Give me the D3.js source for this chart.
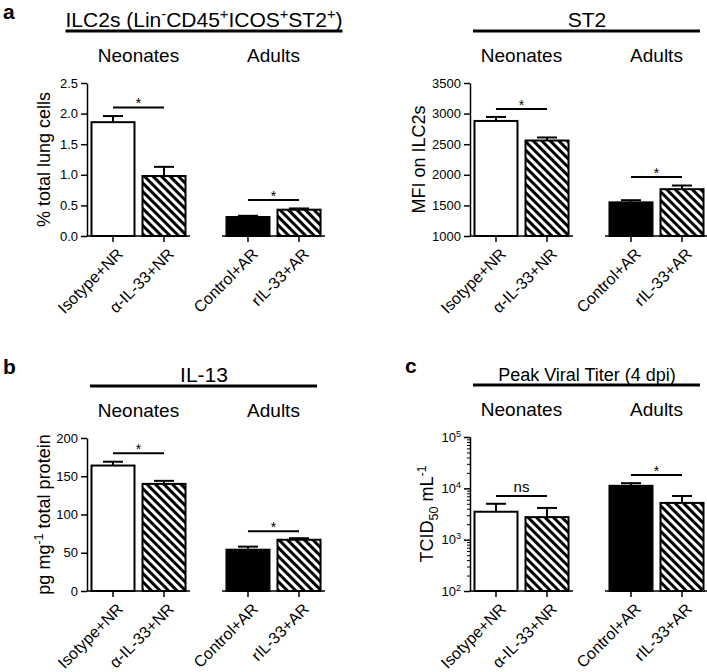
<!DOCTYPE html>
<html>
<head>
<meta charset="utf-8">
<script src="https://cdn.jsdelivr.net/npm/d3@7"></script>
<style>
  body { margin: 0; background: #fff; }
  text { font-family: "Liberation Sans", Arial, Helvetica, sans-serif; fill: #000; }
</style>
</head>
<body>
<svg id="fig" width="707" height="672"></svg>
<script>
// ---- data ----
const groups = ["Isotype+NR", "α-IL-33+NR", "Control+AR", "rIL-33+AR"];
const ageOf = ["Neonates", "Neonates", "Adults", "Adults"];
const ages = ["Neonates", "Adults"];
const fills = ["white", "hatch", "black", "hatch"];

const ilc2Mean = [1.86, 0.98, 0.31, 0.43];
const ilc2Sem = [0.10, 0.15, 0.02, 0.02];
const ilc2Sig = [2.1, 0.59];
const ilc2Ticks = [0, 0.5, 1.0, 1.5, 2.0, 2.5];

const st2Mean = [2880, 2560, 1550, 1765];
const st2Sem = [65, 50, 35, 60];
const st2Sig = [3075, 1965];
const st2Ticks = [1000, 1500, 2000, 2500, 3000, 3500];

const il13Mean = [164, 140, 54, 67];
const il13Sem = [5, 4, 4, 2];
const il13Sig = [180, 78];
const il13Ticks = [0, 50, 100, 150, 200];

const titerMean = [3500, 2750, 11200, 5200];
const titerSem = [1500, 1400, 1400, 1900];
const titerSig = [7100, 18200];
const titerTicks = [1e2, 1e3, 1e4, 1e5];

const svg = d3.select("#fig");

// hatch pattern ( \\\ stripes )
svg.append("defs")
  .append("pattern")
  .attr("id", "hatch")
  .attr("patternUnits", "userSpaceOnUse")
  .attr("width", 6)
  .attr("height", 6)
  .attr("patternTransform", "rotate(-45)")
  .call((p) => {
    p.append("rect").attr("width", 6).attr("height", 6).attr("fill", "white");
    p.append("rect").attr("width", 3).attr("height", 6).attr("fill", "black");
  });

// text with sup / sub pieces
function rich(sel, parts, size) {
  let shift = 0;
  parts.forEach(([str, kind]) => {
    const target = kind === "sup" ? -0.38 * size : kind === "sub" ? 0.25 * size : 0;
    sel.append("tspan")
      .attr("dy", target - shift)
      .attr("font-size", kind ? size * 0.7 : size)
      .text(str);
    shift = target;
  });
}

function drawPanel(o) {
  const g = svg.append("g");
  const x0 = o.x0;

  const outer = d3.scaleBand().domain(ages).range([x0, x0 + 238]).paddingInner(0.237);
  const inner = d3.scaleBand().domain([0, 1]).range([0, outer.bandwidth()])
    .paddingInner(0.157).paddingOuter(0.088);
  const xPos = (i) => outer(ageOf[i]) + inner(i % 2);
  const bw = inner.bandwidth();

  const y = o.log
    ? d3.scaleLog().domain(o.domain).range([o.yBottom, o.yTop])
    : d3.scaleLinear().domain(o.domain).range([o.yBottom, o.yTop]);

  // panel letter
  g.append("text").attr("x", o.letter[1]).attr("y", o.letter[2])
    .attr("font-size", 21).attr("font-weight", "bold").text(o.letter[0]);

  // title + underline
  const cx = x0 + 117;
  const title = g.append("text").attr("x", cx).attr("y", o.yTop - 56)
    .attr("text-anchor", "middle");
  rich(title, o.title, o.titleSize);
  const bb = title.node().getBBox();
  g.append("line")
    .attr("x1", Math.min(x0 + 3, bb.x)).attr("x2", Math.max(x0 + 230, bb.x + bb.width))
    .attr("y1", o.yTop - 52).attr("y2", o.yTop - 52)
    .attr("stroke", "black").attr("stroke-width", 3);

  // age headers
  g.selectAll(".age").data(ages).join("text")
    .attr("x", (d) => outer(d) + outer.bandwidth() / 2)
    .attr("y", o.yTop - 21)
    .attr("text-anchor", "middle").attr("font-size", 19).text((d) => d);

  // bars
  const base = y.domain()[0];
  g.selectAll(".bar").data(o.mean).join("rect")
    .attr("x", (d, i) => xPos(i))
    .attr("width", bw)
    .attr("y", (d) => y(d))
    .attr("height", (d) => y(base) - y(d))
    .attr("fill", (d, i) => (fills[i] === "hatch" ? "url(#hatch)" : fills[i]))
    .attr("stroke", "black").attr("stroke-width", 2);

  // error bars (upper only)
  const eb = g.selectAll(".err").data(o.mean).join("g");
  eb.append("line")
    .attr("x1", (d, i) => xPos(i) + bw / 2).attr("x2", (d, i) => xPos(i) + bw / 2)
    .attr("y1", (d) => y(d)).attr("y2", (d, i) => y(d + o.sem[i]))
    .attr("stroke", "black").attr("stroke-width", 2);
  eb.append("line")
    .attr("x1", (d, i) => xPos(i) + bw / 2 - 10).attr("x2", (d, i) => xPos(i) + bw / 2 + 10)
    .attr("y1", (d, i) => y(d + o.sem[i])).attr("y2", (d, i) => y(d + o.sem[i]))
    .attr("stroke", "black").attr("stroke-width", 2);

  // significance brackets
  ages.forEach((a, k) => {
    const xa = xPos(2 * k) + bw / 2, xb = xPos(2 * k + 1) + bw / 2;
    const yy = y(o.sig[k]);
    g.append("line").attr("x1", xa).attr("x2", xb).attr("y1", yy).attr("y2", yy)
      .attr("stroke", "black").attr("stroke-width", 2);
    const lab = o.sigLabels[k];
    g.append("text").attr("x", (xa + xb) / 2).attr("y", lab === "*" ? yy + 1 : yy - 4)
      .attr("text-anchor", "middle").attr("font-size", lab === "*" ? 14 : 15).text(lab);
  });

  // y axis
  const yAxis = d3.axisLeft(y).tickValues(o.ticks).tickSize(6).tickPadding(3).tickSizeOuter(0)
    .tickFormat(o.log ? () => "" : d3.format(o.fmt));
  const ya = g.append("g").attr("transform", `translate(${x0},0)`).call(yAxis);
  ya.selectAll("text").attr("font-size", 13)
    .style("font-family", '"Liberation Sans", Arial, sans-serif');
  ya.selectAll("path, line").attr("stroke", "black").attr("stroke-width", 1.5);
  if (o.log) {
    ya.selectAll(".tick text").each(function (d) {
      const t = d3.select(this);
      t.append("tspan").text("10");
      t.append("tspan").attr("dy", -5).attr("font-size", 9).text(Math.round(Math.log10(d)));
    });
    const minor = y.ticks().filter((v) => !o.ticks.includes(v));
    const ma = g.append("g").attr("transform", `translate(${x0},0)`)
      .call(d3.axisLeft(y).tickValues(minor).tickSize(3).tickFormat(() => "").tickSizeOuter(0));
    ma.selectAll("path, line").attr("stroke", "black").attr("stroke-width", 1);
  }

  // y label
  const yl = g.append("text")
    .attr("transform", `translate(${x0 - o.labelOff},${(o.yTop + o.yBottom) / 2}) rotate(-90)`)
    .attr("text-anchor", "middle");
  rich(yl, o.yLabel, 18);

  // x axis: one segment per age group
  ages.forEach((a) => {
    g.append("line")
      .attr("x1", a === ages[0] ? x0 : outer(a)).attr("x2", outer(a) + outer.bandwidth())
      .attr("y1", o.yBottom).attr("y2", o.yBottom)
      .attr("stroke", "black").attr("stroke-width", 1.5);
  });
  g.selectAll(".xt").data(groups).join("line")
    .attr("x1", (d, i) => xPos(i) + bw / 2).attr("x2", (d, i) => xPos(i) + bw / 2)
    .attr("y1", o.yBottom).attr("y2", o.yBottom + 6)
    .attr("stroke", "black").attr("stroke-width", 1.5);
  g.selectAll(".xl").data(groups).join("text")
    .attr("transform", (d, i) => `translate(${xPos(i) + bw / 2 + 11},${o.yBottom + 19}) rotate(-45)`)
    .attr("text-anchor", "end").attr("font-size", 16).text((d) => d);
}

drawPanel({
  x0: 87, yTop: 83, yBottom: 236, domain: [0, 2.5], ticks: ilc2Ticks, fmt: ".1f",
  mean: ilc2Mean, sem: ilc2Sem, sig: ilc2Sig, sigLabels: ["*", "*"],
  title: [["ILC2s (Lin", ""], ["-", "sup"], ["CD45", ""], ["+", "sup"], ["ICOS", ""], ["+", "sup"], ["ST2", ""], ["+", "sup"], [")", ""]],
  titleSize: 21, yLabel: [["% total lung cells", ""]], labelOff: 37, letter: ["a", 3, 19]
});

drawPanel({
  x0: 470, yTop: 83, yBottom: 236, domain: [1000, 3500], ticks: st2Ticks, fmt: "d",
  mean: st2Mean, sem: st2Sem, sig: st2Sig, sigLabels: ["*", "*"],
  title: [["ST2", ""]], titleSize: 21, yLabel: [["MFI on ILC2s", ""]], labelOff: 45, letter: ["", 0, 0]
});

drawPanel({
  x0: 87, yTop: 438, yBottom: 591, domain: [0, 200], ticks: il13Ticks, fmt: "d",
  mean: il13Mean, sem: il13Sem, sig: il13Sig, sigLabels: ["*", "*"],
  title: [["IL-13", ""]], titleSize: 21,
  yLabel: [["pg mg", ""], ["-1", "sup"], [" total protein", ""]], labelOff: 37, letter: ["b", 3, 374]
});

drawPanel({
  x0: 470, yTop: 437, yBottom: 591, domain: [1e2, 1e5], ticks: titerTicks, log: true,
  mean: titerMean, sem: titerSem, sig: titerSig, sigLabels: ["ns", "*"],
  title: [["Peak Viral Titer (4 dpi)", ""]], titleSize: 18,
  yLabel: [["TCID", ""], ["50", "sub"], [" mL", ""], ["-1", "sup"]], labelOff: 37, letter: ["c", 405, 373]
});
</script>
</body>
</html>
